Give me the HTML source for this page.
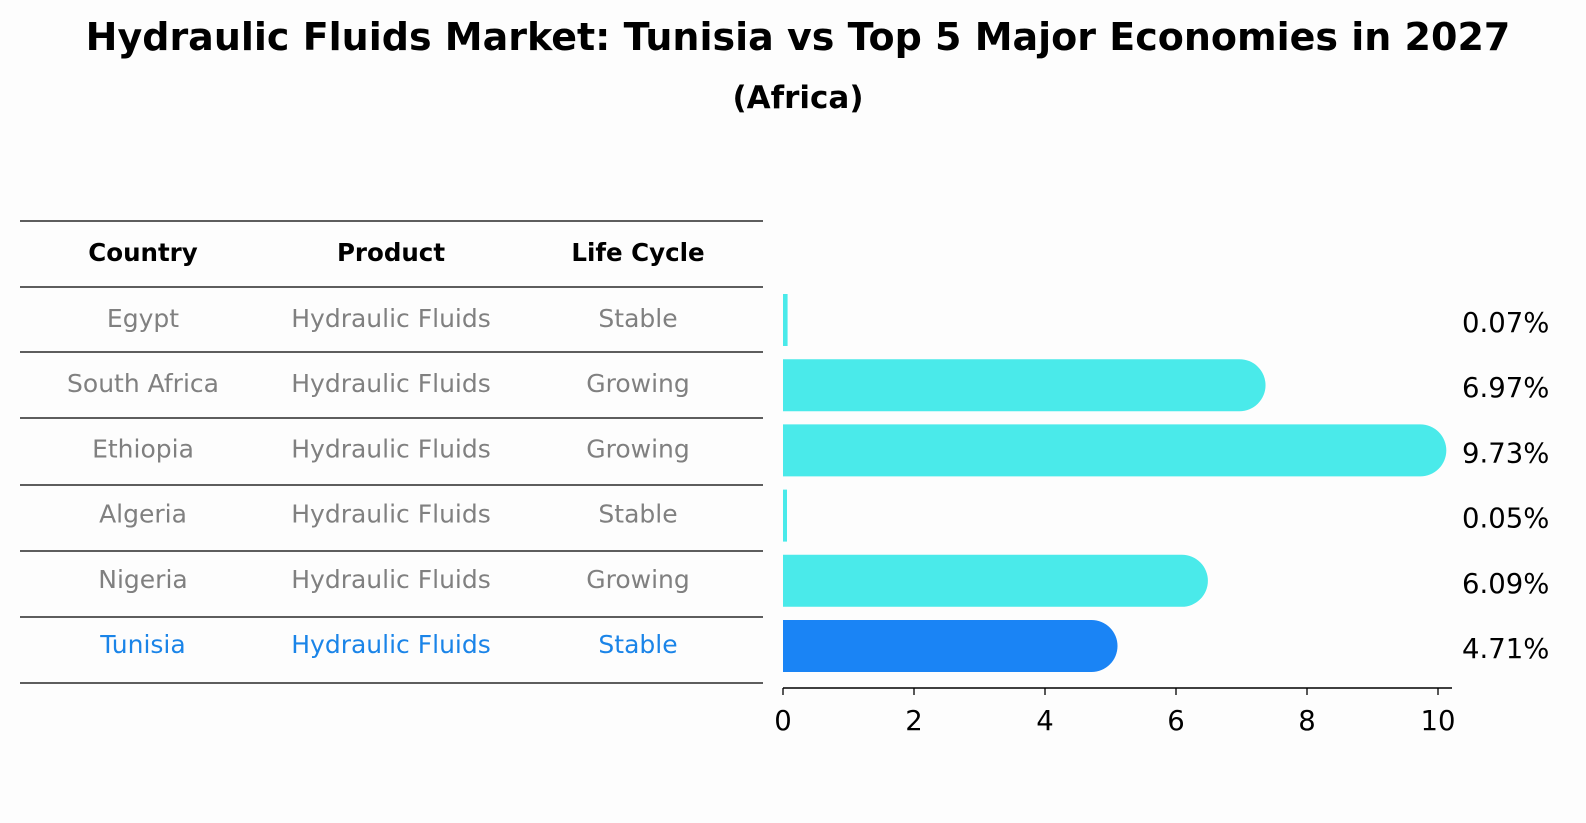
<!DOCTYPE html>
<html><head><meta charset="utf-8"><style>
body{margin:0;background:#fdfdfd;}
svg{display:block;font-family:"DejaVu Sans","Liberation Sans",sans-serif;}
</style></head><body>
<svg width="1586" height="823" viewBox="0 0 1586 823">
<text x="798" y="50" text-anchor="middle" font-size="38" font-weight="bold">Hydraulic Fluids Market: Tunisia vs Top 5 Major Economies in 2027</text>
<text x="798" y="108" text-anchor="middle" font-size="31" font-weight="bold">(Africa)</text>
<g id="table"></g>
<g id="bars"></g>
<g id="axis"></g>
</svg>
<script>
const countries=["Egypt","South Africa","Ethiopia","Algeria","Nigeria","Tunisia"];
const products=["Hydraulic Fluids","Hydraulic Fluids","Hydraulic Fluids","Hydraulic Fluids","Hydraulic Fluids","Hydraulic Fluids"];
const lifeCycles=["Stable","Growing","Growing","Stable","Growing","Stable"];
const values=[0.07,6.97,9.73,0.05,6.09,4.71];
const ticks=[0,2,4,6,8,10];
const NS="http://www.w3.org/2000/svg";
function mk(tag,attrs,parent,text){const e=document.createElementNS(NS,tag);for(const k in attrs)e.setAttribute(k,attrs[k]);if(text!==undefined)e.textContent=text;parent.appendChild(e);return e;}
const x=v=>783+v*65.5;
const rowY=i=>320+i*65.2;
const table=document.getElementById('table');
const lineYs=[221,287,352,418,485,551,617,683];
lineYs.forEach(y=>{const l=mk('line',{x1:20,x2:763,y1:y,y2:y,stroke:'#000','stroke-width':1.2},table);

});
const colX=[143,391,638];
["Country","Product","Life Cycle"].forEach((h,j)=>{const t=mk('text',{x:colX[j],y:261,'text-anchor':'middle','font-size':24.5,'font-weight':'bold'},table,h);

});
countries.forEach((c,i)=>{const col=i===countries.length-1?'#1a84e8':'#808080';
[c,products[i],lifeCycles[i]].forEach((s,j)=>{const t=mk('text',{x:colX[j],y:rowY(i)+7,'text-anchor':'middle','font-size':25,fill:col},table,s);

});});
const bars=document.getElementById('bars');
const h=52,r=26;
values.forEach((v,i)=>{const y0=rowY(i)-h/2;const x0=x(0),x1=x(v);
const col=i===values.length-1?'#1a84f5':'#4aeaea';
let d;
if(v>1){d=`M${x0},${y0} H${x1} A${r},${r} 0 0 1 ${x1+r},${y0+r} A${r},${r} 0 0 1 ${x1},${y0+h} H${x0} Z`;}
else{d=`M${x0},${y0} H${Math.max(x1,x0+4)} V${y0+h} H${x0} Z`;}
const p=mk('path',{d:d,fill:col},bars);


const t=mk('text',{x:1462,y:rowY(i)+12,'font-size':27.5},bars,v.toFixed(2)+'%');

});
const axis=document.getElementById('axis');
mk('line',{x1:783,x2:1452,y1:688,y2:688,stroke:'#000','stroke-width':1.5},axis);
ticks.forEach(t=>{mk('line',{x1:x(t),x2:x(t),y1:688,y2:695,stroke:'#000','stroke-width':1.3},axis);
const l=mk('text',{x:x(t),y:730,'text-anchor':'middle','font-size':27.5},axis,String(t));

});
</script>
</body></html>
